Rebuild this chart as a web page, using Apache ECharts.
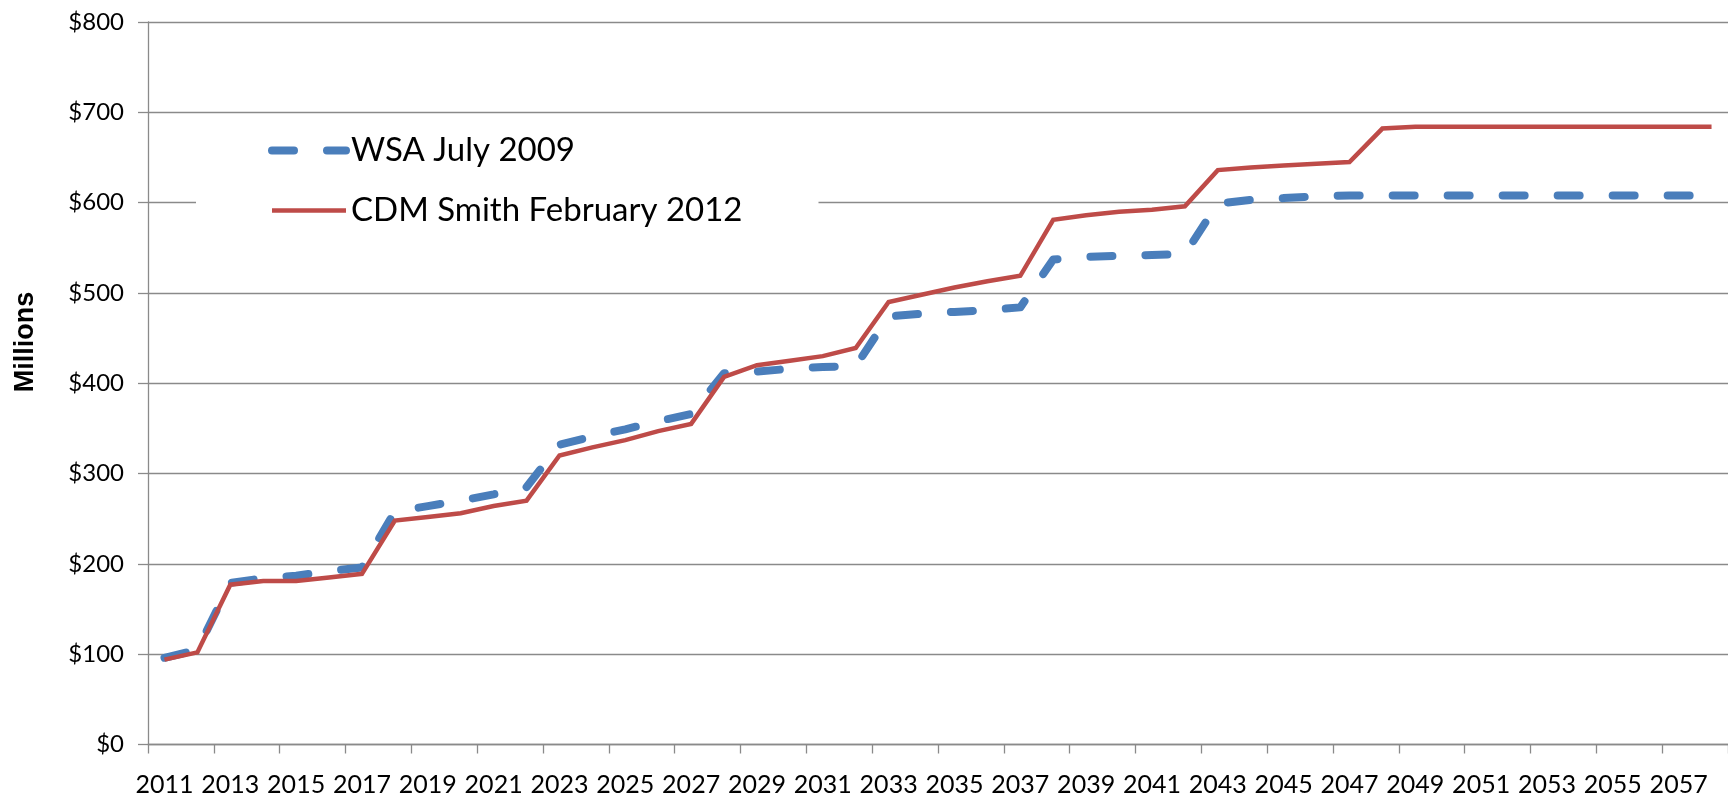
<!DOCTYPE html>
<html>
<head>
<meta charset="utf-8">
<script src="https://cdn.jsdelivr.net/npm/echarts@6/dist/echarts.min.js"></script>
<style>
html,body{margin:0;padding:0;background:#fff;}
#chart{width:1728px;height:799px;}
</style>
</head>
<body>
<div id="chart"></div>
<script>
const years = [];
for (let y = 2011; y <= 2058; y++) years.push(String(y));

const seriesNames = ['WSA July 2009', 'CDM Smith February 2012'];

const wsaJuly2009 = [
  96, 105, 179, 184, 187, 192, 196, 258, 264, 270,
  277, 285, 332, 341, 349, 358, 366, 411, 413, 416,
  418, 419, 474, 477, 479, 481, 484, 537, 540, 541,
  542, 543, 599, 603, 605, 607, 608, 608, 608, 608,
  608, 608, 608, 608, 608, 608, 608, 608
];

const cdmSmithFeb2012 = [
  94, 102, 177, 181, 181, 185, 189, 248, 252, 256,
  264, 270, 320, 329, 337, 347, 355, 407, 420, 425,
  430, 439, 490, 498, 506, 513, 519, 581, 586, 590,
  592, 596, 636, 639, 641, 643, 645, 682, 684, 684,
  684, 684, 684, 684, 684, 684, 684, 684
];

const yTicks = { min: 0, max: 800, interval: 100 };
const yAxisTitle = 'Millions';

const chart = echarts.init(document.getElementById('chart'), null, { renderer: 'canvas' });
const gray = '#8a8a8a';
const blue = '#4a7ebb';
const red = '#be4b48';
const noSymbol = { color: 'rgba(0,0,0,0)', borderColor: 'rgba(0,0,0,0)', borderWidth: 0, opacity: 0 };

chart.setOption({
  animation: false,
  backgroundColor: '#ffffff',
  grid: { left: 148, right: 0, top: 22, bottom: 54.5, containLabel: false },
  legend: {
    orient: 'vertical',
    left: 196,
    top: 117,
    padding: [17, 76, 14, 72],
    backgroundColor: '#ffffff',
    itemWidth: 74,
    itemHeight: 10,
    itemGap: 27,
    textStyle: { fontFamily: 'Lato', fontSize: 33, color: '#000' },
    data: [
      { name: seriesNames[0], itemStyle: noSymbol, lineStyle: { color: blue, width: 8, type: [22, 33], cap: 'round' } },
      { name: seriesNames[1], itemStyle: noSymbol, lineStyle: { color: red, width: 4.5 } }
    ]
  },
  graphic: [{
    type: 'text',
    x: 26,
    y: 342,
    rotation: Math.PI / 2,
    style: {
      text: yAxisTitle,
      fontFamily: 'Liberation Sans',
      fontWeight: 'bold',
      fontSize: 27,
      fill: '#000',
      align: 'center',
      verticalAlign: 'middle'
    }
  }],
  xAxis: {
    type: 'category',
    data: years,
    boundaryGap: true,
    axisLine: { show: true, lineStyle: { color: gray, width: 1.3 } },
    axisTick: { show: true, interval: 1, length: 9, lineStyle: { color: gray, width: 1.3 } },
    axisLabel: { interval: 1, margin: 28, fontFamily: 'Lato', fontSize: 25, color: '#000' },
    splitLine: { show: false }
  },
  yAxis: {
    type: 'value',
    min: yTicks.min,
    max: yTicks.max,
    interval: yTicks.interval,
    axisLine: { show: true, lineStyle: { color: gray, width: 1.3 } },
    axisTick: { show: true, length: 10, lineStyle: { color: gray, width: 1.3 } },
    axisLabel: { margin: 24, fontFamily: 'Lato', fontSize: 24, color: '#000', formatter: v => '$' + v },
    splitLine: { show: true, lineStyle: { color: gray, width: 1.3 } }
  },
  series: [
    {
      name: seriesNames[0],
      type: 'line',
      data: wsaJuly2009,
      symbol: 'none',
      z: 2,
      lineStyle: { color: blue, width: 8, type: [22, 33], cap: 'round', join: 'round' },
      itemStyle: { color: blue }
    },
    {
      name: seriesNames[1],
      type: 'line',
      data: cdmSmithFeb2012,
      symbol: 'none',
      z: 3,
      lineStyle: { color: red, width: 4.5, join: 'miter' },
      itemStyle: { color: red }
    }
  ]
});
</script>
</body>
</html>
